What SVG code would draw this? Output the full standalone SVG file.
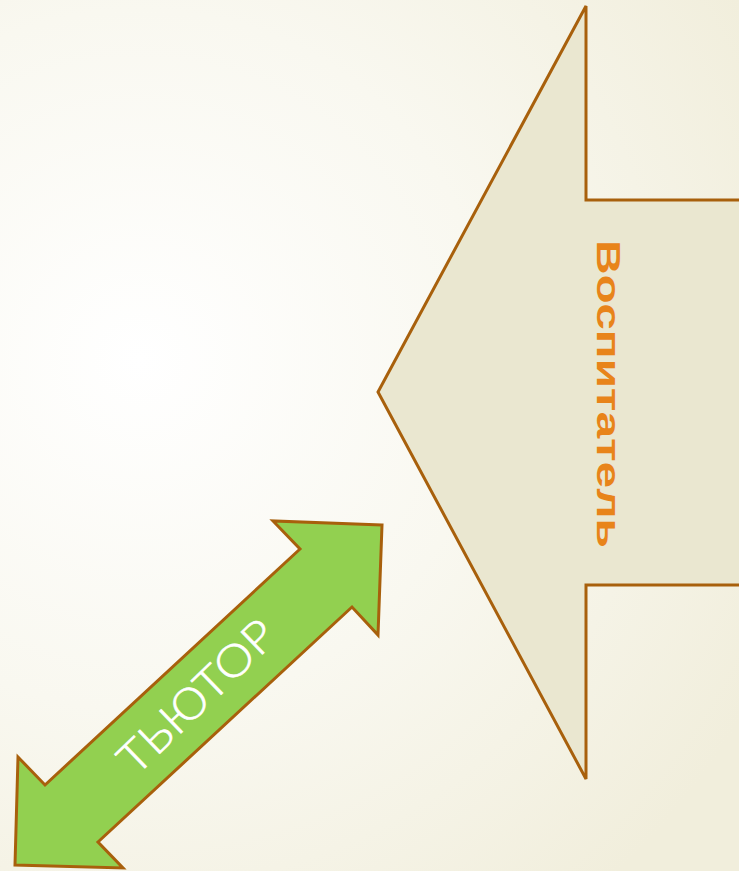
<svg xmlns="http://www.w3.org/2000/svg" width="739" height="871" viewBox="0 0 739 871">
  <defs>
    <radialGradient id="bg" cx="140" cy="360" r="700" gradientUnits="userSpaceOnUse">
      <stop offset="0" stop-color="#FFFFFF"/>
      <stop offset="0.5" stop-color="#F9F8F0"/>
      <stop offset="1" stop-color="#F1EEDC"/>
    </radialGradient>
    <style>
      .shape { stroke: #A8600C; stroke-width: 3; stroke-linejoin: miter; }
      .big { fill: #EAE7D0; }
      .green { fill: #92D050; }
      .lbl1 { font-family: "Liberation Sans", Arial, sans-serif; font-weight: bold; font-size: 33px; fill: #E8841A; }
      .lbl2 { font-family: "Lato", "Open Sans", sans-serif; font-weight: 300; font-size: 44px; fill: #FFFFFF; stroke: #FFFFFF; stroke-width: 0.6; }
    </style>
  </defs>
  <rect width="739" height="871" fill="url(#bg)"/>
  <g id="vospitatel">
    <path class="shape big" d="M 745 200 L 586 200 L 586 6 L 378 392 L 586 779 L 586 585 L 745 585"/>
    <text class="lbl1" transform="translate(597,240) rotate(90)" x="0" y="0" textLength="308" lengthAdjust="spacingAndGlyphs">Воспитатель</text>
  </g>
  <g id="tutor">
    <path class="shape green" d="M 382 525 L 273 521 L 300 549 L 45 785 L 18 757 L 15 865 L 123 868 L 98 842 L 352 607 L 378 635 Z"/>
    <text class="lbl2" transform="translate(197,697) rotate(-44)" x="0" y="15" text-anchor="middle" textLength="200" lengthAdjust="spacingAndGlyphs">ТЬЮТОР</text>
  </g>
</svg>
